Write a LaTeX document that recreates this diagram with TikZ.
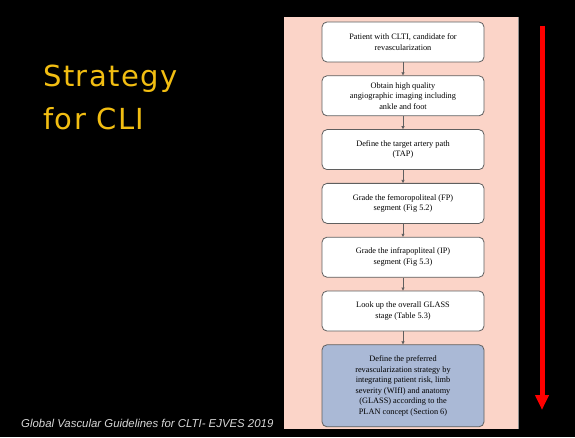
\documentclass[tikz,border=0pt]{standalone}
\usepackage{fontspec}
\setmainfont{Liberation Serif}
\newfontfamily\titlefont[LetterSpace=5]{DejaVu Sans}
\newfontfamily\notefont{Liberation Sans}
\usetikzlibrary{arrows.meta,positioning}
\definecolor{slidebg}{RGB}{0,0,0}
\definecolor{panelpink}{RGB}{251,212,200}
\definecolor{boxline}{RGB}{95,95,95}
\definecolor{plangray}{RGB}{170,185,214}
\definecolor{titlegold}{RGB}{242,190,18}
\definecolor{notegray}{RGB}{215,215,215}

\begin{document}
\begin{tikzpicture}[x=1pt,y=1pt,
  node distance=13pt,
  stepbox/.style={rounded corners=5pt,draw=boxline,line width=0.8pt,fill=white,
              minimum width=162pt,minimum height=40pt,align=center,
              font=\fontsize{8.3}{10.5}\selectfont,inner sep=2pt},
  planbox/.style={stepbox,fill=plangray,minimum height=82pt},
  flow/.style={-{Triangle[length=3pt,width=3pt]},line width=0.6pt,color=boxline},
  bigarr/.style={-{Triangle[length=15pt,width=13pt]},line width=5pt,color=red}]

  % slide background and pink panel
  \fill[slidebg] (0,0) rectangle (575,437);
  \fill[panelpink] (284,8) rectangle (518,420);
  \draw[boxline!70,line width=0.8pt] (518,8) -- (518,420);

  % title and source
  \node[anchor=base west,font=\titlefont\fontsize{29}{43}\selectfont,
        text=titlegold,align=left,inner sep=0pt] (title) at (43,307)
        {Strategy\\for CLI};
  \node[anchor=base west,font=\notefont\itshape\fontsize{11.4}{13}\selectfont,
        text=notegray,inner sep=0pt] (source) at (21,10)
        {Global Vascular Guidelines for CLTI- EJVES 2019};

  % flow of steps
  \node[stepbox] (patient) at (403,395) {Patient with CLTI, candidate for\\revascularization};
  \node[stepbox,below=of patient] (imaging) {Obtain high quality\\angiographic imaging including\\ankle and foot};
  \node[stepbox,below=of imaging] (tap) {Define the target artery path\\(TAP)};
  \node[stepbox,below=of tap] (fp) {Grade the femoropoliteal (FP)\\segment (Fig 5.2)};
  \node[stepbox,below=of fp] (ip) {Grade the infrapopliteal (IP)\\segment (Fig 5.3)};
  \node[stepbox,below=of ip] (glass) {Look up the overall GLASS\\stage (Table 5.3)};
  \node[planbox,below=of glass] (plan) {Define the preferred\\revascularization strategy by\\integrating patient risk, limb\\severity (WIfI) and anatomy\\(GLASS) according to the\\PLAN concept (Section 6)};

  \draw[flow] (patient) -- (imaging);
  \draw[flow] (imaging) -- (tap);
  \draw[flow] (tap) -- (fp);
  \draw[flow] (fp) -- (ip);
  \draw[flow] (ip) -- (glass);
  \draw[flow] (glass) -- (plan);

  % red arrow down the side
  \coordinate (arrtop) at (542,411);
  \coordinate (arrend) at (542,27);
  \draw[bigarr] (arrtop) -- (arrend);
\end{tikzpicture}
\end{document}
